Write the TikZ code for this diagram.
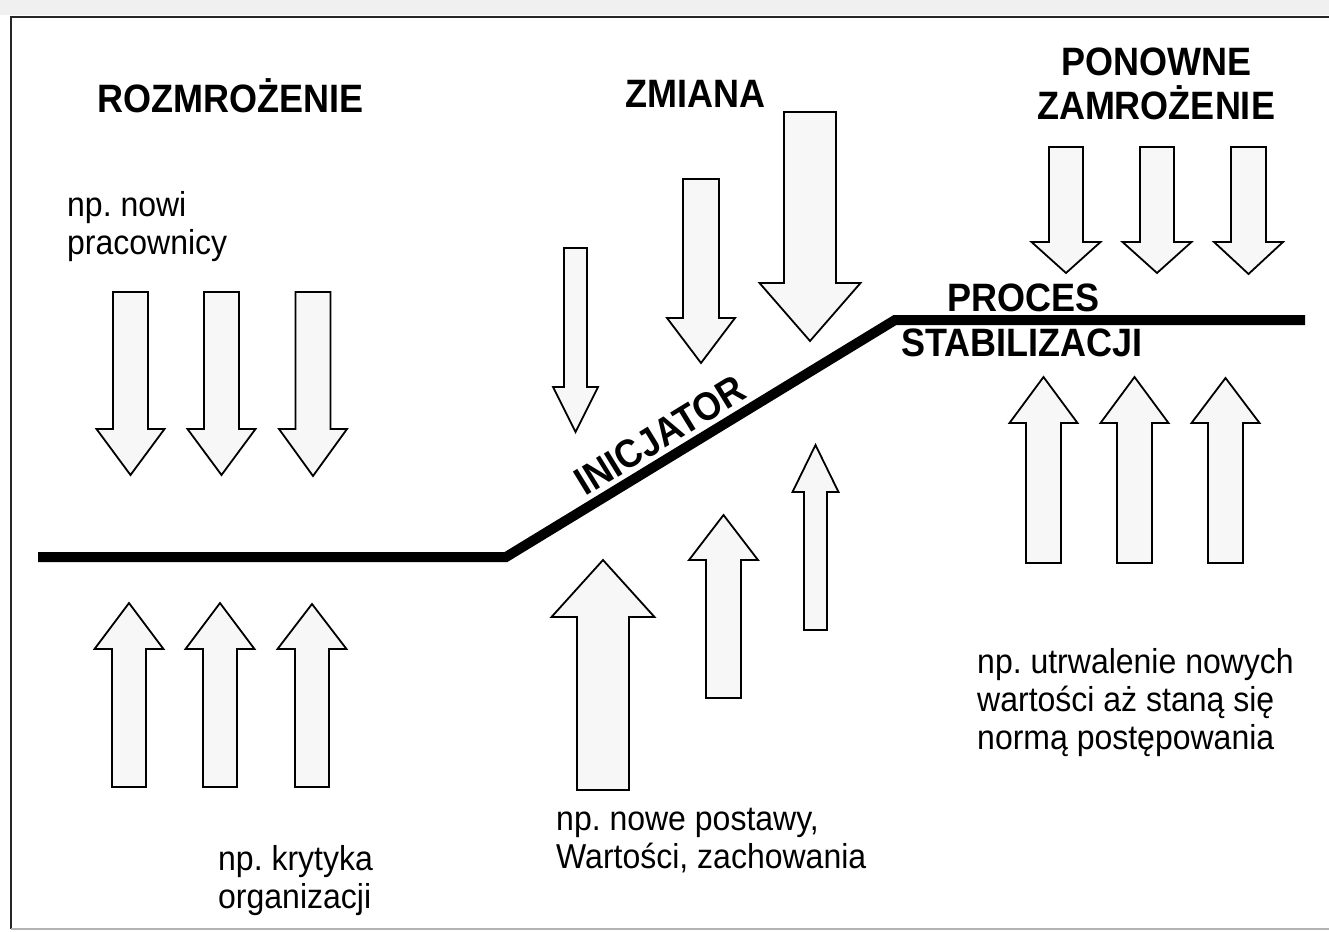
\documentclass[tikz,border=0pt]{standalone}
\usepackage{fontspec}
\setmainfont{Liberation Sans}
\frenchspacing
% block arrow: centre x, tail y, head-base y, tip y, half shaft width, half head width
\newcommand{\blkarrow}[6]{%
  \draw[blockarrow] ({#1-#5},#2) -- ({#1+#5},#2) -- ({#1+#5},#3) -- ({#1+#6},#3)
    -- (#1,#4) -- ({#1-#6},#3) -- ({#1-#5},#3) -- cycle;}
\begin{document}
\begin{tikzpicture}[x=1pt,y=-1pt,
  blockarrow/.style={draw=black, line width=1.8pt, fill=gray!6, line join=miter},
  heading/.style={font=\fontsize{36}{42}\selectfont\bfseries, inner sep=0pt},
  note/.style={font=\fontsize{32}{38}\selectfont, inner sep=0pt, anchor=base west, yscale=1.08},
  stage/.style={line width=10pt, line join=miter},
  frameline/.style={line width=2pt, draw=black!85}]
\useasboundingbox (0,0) rectangle (1329,931);
\fill[white] (0,0) rectangle (1329,931);
\fill[gray!12] (0,0) rectangle (1329,15);

% frame
\coordinate (f1) at (11,929);
\coordinate (f2) at (11,17);
\coordinate (f3) at (1329,17);
\coordinate (f4) at (1329,929);
\draw[frameline] (f1) -- (f2) -- (f3);
\draw[frameline, draw=gray!60] (f1) -- (f4);

% stage line
\coordinate (s0) at (38,557);
\coordinate (s1) at (506,557);
\coordinate (s2) at (895,320);
\coordinate (s3) at (1305,320);
\draw[stage] (s0) -- (s1) -- (s2) -- (s3);

% headings
\node[heading, anchor=base west, yscale=1.1] (rozm) at (97,113) {ROZMROŻENIE};
\node[heading, anchor=base west, yscale=1.1] (zmiana) at (625,108) {ZMIANA};
\node[heading, anchor=base, yscale=1.1] (ponowne) at (1156,76) {PONOWNE};
\node[heading, anchor=base, yscale=1.1] (zamroz) at (1156,119) {ZAMROŻENIE};
\node[heading, anchor=base west, yscale=1.1] (proces) at (947,311) {PROCES};
\node[heading, anchor=base west, yscale=1.1] (stab) at (901,356) {STABILIZACJI};
\node[heading, anchor=base, rotate=31.5, yscale=1.1] (inic) at (667,447) {INICJATOR};

% notes
\node[note] (n1a) at (67,216) {np. nowi};
\node[note] (n1b) at (67,254) {pracownicy};
\node[note] (n2a) at (218,870) {np. krytyka};
\node[note] (n2b) at (218,908) {organizacji};
\node[note] (n3a) at (556,830) {np. nowe postawy,};
\node[note] (n3b) at (556,868) {Wartości, zachowania};
\node[note] (n4a) at (977,673) {np. utrwalenie nowych};
\node[note] (n4b) at (977,711) {wartości aż staną się};
\node[note] (n4c) at (977,749) {normą postępowania};

% unfreezing forces
\blkarrow{130.5}{292}{429}{475}{17.5}{34}
\blkarrow{221.5}{292}{429}{475}{17.5}{34}
\blkarrow{313}{292}{429}{476}{17.5}{34}
\blkarrow{129}{787}{649}{603}{17}{34.5}
\blkarrow{220}{787}{649}{603}{17}{34.5}
\blkarrow{312}{787}{649}{604}{17}{34.5}

% change forces
\blkarrow{575.5}{248}{387}{432}{11.5}{22.5}
\blkarrow{701}{179}{318}{363}{18}{34}
\blkarrow{810}{112}{283}{341}{26}{50.5}
\blkarrow{603}{790}{617}{560}{26}{51.5}
\blkarrow{723.5}{698}{560}{515}{17.5}{34.5}
\blkarrow{815.5}{630}{492}{445}{11.5}{23}

% refreezing forces
\blkarrow{1066}{147}{242}{273}{17}{34.5}
\blkarrow{1157}{147}{242}{273}{17}{34.5}
\blkarrow{1248.5}{147}{242}{274}{17.5}{34.5}
\blkarrow{1043.5}{563}{423}{377}{17.5}{34}
\blkarrow{1134.5}{563}{423}{377}{17.5}{34}
\blkarrow{1225.5}{563}{423}{378}{17.5}{34}
\end{tikzpicture}
\end{document}
